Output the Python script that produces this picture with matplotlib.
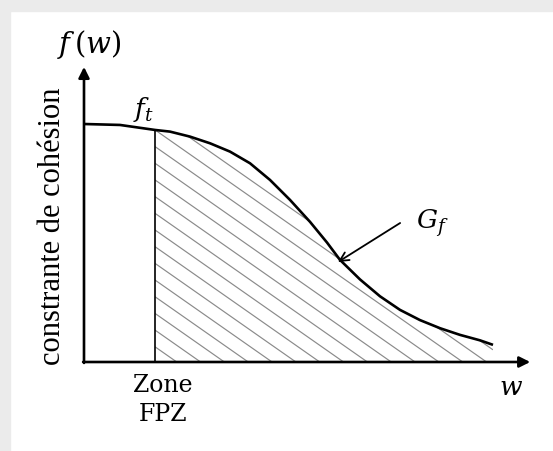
import numpy as np
import matplotlib.pyplot as plt
from matplotlib.collections import LineCollection
from matplotlib.patches import Rectangle

plt.rcParams['mathtext.fontset'] = 'dejavuserif'

# courbe de cohesion f(w) (unites arbitraires)
w = [0.000, 0.811, 1.599, 1.937, 2.387, 2.838, 3.288, 3.739, 4.189, 4.640, 5.090,
     5.473, 5.766, 6.216, 6.667, 7.117, 7.568, 8.018, 8.468, 8.919, 9.212]
f = [1.000, 0.996, 0.975, 0.968, 0.947, 0.919, 0.884, 0.835, 0.765, 0.681, 0.589,
     0.502, 0.429, 0.347, 0.276, 0.219, 0.176, 0.142, 0.114, 0.091, 0.072]
i_fpz = 2          # debut de la zone FPZ (indice dans w)
w_max = 10.05      # bout de l'axe w
f_max = 1.24       # bout de l'axe f(w)
gf_arrow = [(7.12, 0.584), (5.72, 0.420)]   # fleche G_f (depart, arrivee)

w = np.array(w)
f = np.array(f)

fig = plt.figure(figsize=(5.53, 4.51), dpi=100)
ax = fig.add_axes([0, 0, 1, 1])
ax.set_xlim(-84 / 44.4, (553 - 84) / 44.4)
ax.set_ylim((362 - 451) / 238, 362 / 238)
ax.axis('off')

# cadre gris en haut et a gauche
fig.patches.append(Rectangle((0, 1 - 11 / 451), 1, 11 / 451, transform=fig.transFigure,
                             color='#ebebeb', zorder=0))
fig.patches.append(Rectangle((0, 0), 10 / 553, 1, transform=fig.transFigure,
                             color='#ebebeb', zorder=0))

# zone hachuree sous la courbe (G_f)
wz = w[i_fpz:]
fz = f[i_fpz:]
poly = ax.fill_between(wz, 0, fz, facecolor='none', edgecolor='none')
slope = 0.1306
step = 0.0701
cs = np.arange(0.064, 1 + slope * (wz[-1] - wz[0]) + step, step)
segs = [[(wz[0], c), (wz[-1], c - slope * (wz[-1] - wz[0]))] for c in cs]
hatch = LineCollection(segs, colors='#8a8a8a', linewidths=0.85)
ax.add_collection(hatch)
hatch.set_clip_path(poly.get_paths()[0], ax.transData)

# courbe et ligne verticale
ax.plot(w, f, color='black', lw=1.9, solid_joinstyle='round', solid_capstyle='butt')
ax.plot([w[i_fpz], w[i_fpz]], [0, f[i_fpz]], color='black', lw=1.2)

# axes avec fleches
ax.annotate('', xy=(0, f_max), xytext=(0, -0.004),
            arrowprops=dict(arrowstyle='-|>', lw=1.9, color='black', mutation_scale=16,
                            shrinkA=0, shrinkB=0))
ax.annotate('', xy=(w_max, 0), xytext=(-0.02, 0),
            arrowprops=dict(arrowstyle='-|>', lw=1.9, color='black', mutation_scale=16,
                            shrinkA=0, shrinkB=0))

# fleche G_f
ax.annotate('', xy=gf_arrow[1], xytext=gf_arrow[0],
            arrowprops=dict(arrowstyle='->', lw=1.3, color='black', mutation_scale=16,
                            shrinkA=0, shrinkB=0))

# textes
ax.text(0.11, 1.336, r'$f\,(w)$', fontsize=21, ha='center', va='center')
ax.text(1.33, 1.059, r'$f_t$', fontsize=19, ha='center', va='center')
ax.text(7.84, 0.585, r'$G_f$', fontsize=19, ha='center', va='center')
ax.text(9.62, -0.109, r'$w$', fontsize=19, ha='center', va='center')
ax.text(1.78, -0.10, 'Zone', fontsize=17, family='DejaVu Serif', ha='center', va='center')
ax.text(1.78, -0.22, 'FPZ', fontsize=17, family='DejaVu Serif', ha='center', va='center')
ax.text(-0.70, 0.571, 'constrante de cohésion', fontsize=22, family='Liberation Serif',
        rotation=90, ha='center', va='center')

fig.savefig('out.png', dpi=100)
